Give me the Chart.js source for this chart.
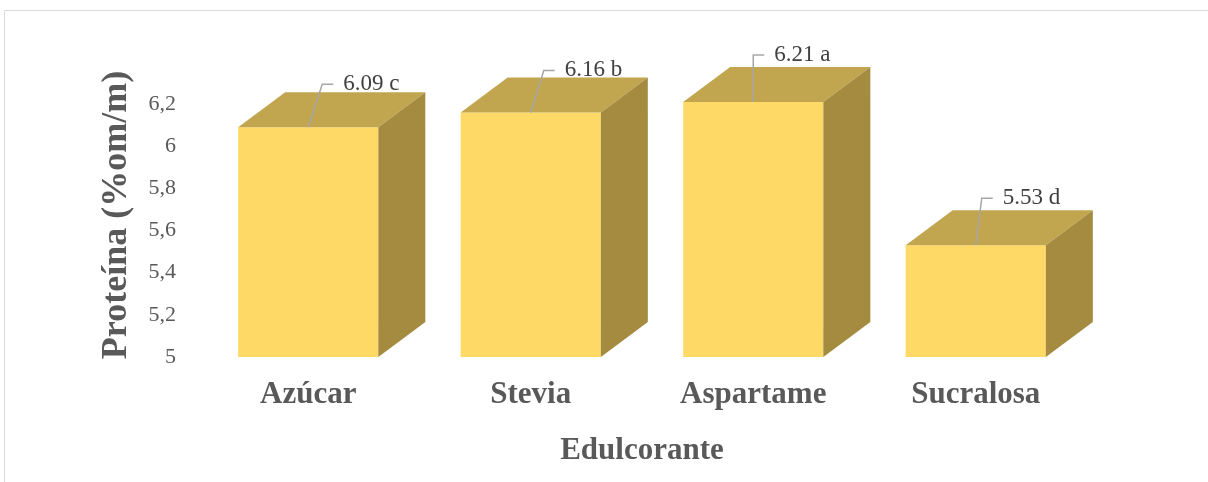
<!DOCTYPE html>
<html><head><meta charset="utf-8">
<script src="https://cdn.jsdelivr.net/npm/chart.js@4.4.1/dist/chart.umd.min.js"></script>
<style>html,body{margin:0;padding:0;background:#fff}#wrap{position:relative;width:1208px;height:482px}</style>
</head><body><div id="wrap"><canvas id="c" width="1208" height="482"></canvas></div>
<script>
const categories = ['Azúcar', 'Stevia', 'Aspartame', 'Sucralosa'];
const proteinValues = [6.09, 6.16, 6.21, 5.53];
const groupLetters = ['c', 'b', 'a', 'd'];
const yTicks = [5, 5.2, 5.4, 5.6, 5.8, 6, 6.2];
const yAxisTitle = 'Proteína (%om/m)';
const xAxisTitle = 'Edulcorante';

const SERIF = '"Liberation Serif", "Times New Roman", serif';
const FRONT = '#FFD966', TOP = '#C2A64F', SIDE = '#A48B40';
const DEPTH_X = 47, DEPTH_Y = -35;
// leader line offsets (style): [dx, dy] from top-centre of each front face
const leaderOffsets = [[14, -43], [13, -42], [0, -47], [6, -47]];

const framePlugin = {
  id: 'frame',
  beforeDraw(chart) {
    const ctx = chart.ctx;
    ctx.save();
    ctx.fillStyle = '#fff';
    ctx.fillRect(0, 0, chart.width, chart.height);
    ctx.strokeStyle = '#D9D9D9';
    ctx.lineWidth = 1;
    ctx.beginPath();
    ctx.moveTo(4.5, chart.height);
    ctx.lineTo(4.5, 10.5);
    ctx.lineTo(chart.width, 10.5);
    ctx.stroke();
    ctx.restore();
  }
};

const boxPlugin = {
  id: 'box3d',
  afterDatasetsDraw(chart) {
    const ctx = chart.ctx;
    const meta = chart.getDatasetMeta(0);
    ctx.save();
    meta.data.forEach((bar, i) => {
      const p = bar.getProps(['x', 'y', 'base', 'width'], true);
      const l = p.x - p.width / 2, r = p.x + p.width / 2, t = p.y, b = p.base;
      ctx.fillStyle = TOP;
      ctx.beginPath();
      ctx.moveTo(l, t); ctx.lineTo(l + DEPTH_X, t + DEPTH_Y);
      ctx.lineTo(r + DEPTH_X, t + DEPTH_Y); ctx.lineTo(r, t); ctx.closePath();
      ctx.fill();
      ctx.fillStyle = SIDE;
      ctx.beginPath();
      ctx.moveTo(r, t); ctx.lineTo(r + DEPTH_X, t + DEPTH_Y);
      ctx.lineTo(r + DEPTH_X, b + DEPTH_Y); ctx.lineTo(r, b); ctx.closePath();
      ctx.fill();
    });
    meta.data.forEach((bar, i) => {
      const p = bar.getProps(['x', 'y'], true);
      const [dx, dy] = leaderOffsets[i];
      const ex = p.x + dx, ey = p.y + dy;
      ctx.strokeStyle = '#A6A6A6';
      ctx.lineWidth = 1.5;
      ctx.beginPath();
      ctx.moveTo(p.x, p.y);
      ctx.lineTo(ex, ey);
      ctx.lineTo(ex + 11, ey);
      ctx.stroke();
      ctx.fillStyle = '#404040';
      ctx.font = '23px ' + SERIF;
      ctx.textAlign = 'left';
      ctx.textBaseline = 'middle';
      const v = chart.data.datasets[0].data[i];
      ctx.fillText(v.toFixed(2) + ' ' + groupLetters[i], ex + 21, ey);
    });
    ctx.restore();
  }
};

new Chart(document.getElementById('c'), {
  type: 'bar',
  data: {
    labels: categories,
    datasets: [{
      data: proteinValues,
      base: yTicks[0],
      backgroundColor: FRONT,
      borderWidth: 0,
      barPercentage: 0.63,
      categoryPercentage: 1.0,
      clip: false
    }]
  },
  options: {
    responsive: false,
    animation: false,
    devicePixelRatio: 1,
    layout: { padding: { left: 95, right: 121, top: 73, bottom: 0 } },
    plugins: { legend: { display: false }, tooltip: { enabled: false } },
    scales: {
      x: {
        grid: { display: false, drawTicks: false },
        border: { display: false },
        ticks: { color: '#595959', padding: 19, font: { family: SERIF, size: 31, weight: 'bold' } },
        title: { display: true, text: xAxisTitle, color: '#595959', padding: { top: 0, bottom: 12 },
                 font: { family: SERIF, size: 31, weight: 'bold' } },
        afterFit(scale) { scale.height = 125; }
      },
      y: {
        min: 5, max: 6.347,
        grid: { display: false, drawTicks: false },
        border: { display: false },
        afterBuildTicks(scale) { scale.ticks = yTicks.map(v => ({ value: v })); },
        ticks: {
          color: '#595959', padding: 21,
          font: { family: SERIF, size: 22 },
          callback: v => String(v).replace('.', ',')
        },
        title: { display: true, text: yAxisTitle, color: '#595959', padding: { top: 0, bottom: 0 },
                 font: { family: SERIF, size: 36, weight: 'bold' } },
        afterFit(scale) { scale.width = 102; }
      }
    }
  },
  plugins: [framePlugin, boxPlugin]
});
</script>
</body></html>
